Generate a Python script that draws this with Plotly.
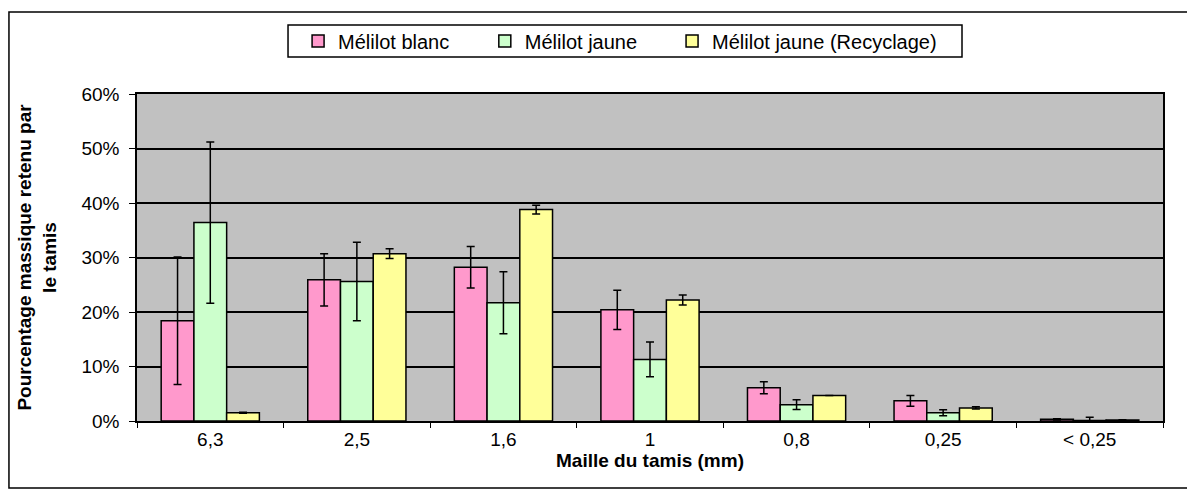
import plotly.graph_objects as go

categories = ["6,3", "2,5", "1,6", "1", "0,8", "0,25", "< 0,25"]
blanc = [18.4, 25.9, 28.2, 20.4, 6.1, 3.7, 0.3]
blanc_err = [11.7, 4.8, 3.8, 3.6, 1.1, 1.0, 0.1]
jaune = [36.4, 25.6, 21.7, 11.3, 3.0, 1.5, 0.1]
jaune_err = [14.8, 7.2, 5.7, 3.2, 0.9, 0.55, 0.6]
recyc = [1.5, 30.7, 38.8, 22.2, 4.7, 2.4, 0.2]
recyc_err = [0.1, 0.9, 0.8, 0.9, 0.0, 0.2, 0.05]

series = [
    ("Mélilot blanc", blanc, blanc_err, "#ff99cc", "legend", 0.1570),
    ("Mélilot jaune", jaune, jaune_err, "#ccffcc", "legend2", 0.3390),
    ("Mélilot jaune (Recyclage)", recyc, recyc_err, "#ffff99", "legend3", 0.5215),
]

font = "Liberation Sans, Arial, sans-serif"
fig = go.Figure()
legends = {}
for name, vals, errs, col, lg, lx in series:
    fig.add_trace(go.Bar(
        name=name, x=categories, y=[v / 100 for v in vals], legend=lg,
        marker=dict(color=col, line=dict(color="black", width=1.5)),
        error_y=dict(type="data", array=[e / 100 for e in errs], color="black",
                     thickness=1.5, width=4, visible=True),
    ))
    legends[lg] = dict(orientation="h", x=lx, xanchor="left", y=1.162, yanchor="middle",
                       bgcolor="rgba(0,0,0,0)", borderwidth=0,
                       font=dict(size=20, family=font, color="black"))

fig.update_layout(
    width=1195, height=490,
    margin=dict(l=129, r=40, t=86, b=77),
    paper_bgcolor="white", plot_bgcolor="#c1c1c1",
    barmode="group", bargap=0.33, bargroupgap=0,
    font=dict(family=font, size=19, color="black"),
    showlegend=True,
    xaxis=dict(
        title=dict(text="<b>Maille du tamis (mm)</b>", standoff=2, font=dict(size=19)),
        showline=True, linecolor="black", linewidth=1.5, mirror=True,
        ticks="outside", tickson="boundaries", ticklen=5, tickcolor="black",
        showgrid=False, tickfont=dict(size=19),
    ),
    yaxis=dict(
        title=dict(text="<b>Pourcentage massique retenu par<br>le tamis</b>", standoff=20,
                   font=dict(size=19)),
        range=[0, 0.6], dtick=0.1, tickformat=".0%",
        showline=True, linecolor="black", linewidth=1.5, mirror=True,
        ticks="outside", ticklen=6, tickcolor="black", tickfont=dict(size=19),
        ticklabelstandoff=6,
        showgrid=True, gridcolor="black", gridwidth=1.5, zeroline=False,
    ),
    shapes=[
        dict(type="rect", xref="paper", yref="paper",
             x0=-0.1248, x1=1.04, y0=-0.205, y1=1.2508,
             line=dict(color="black", width=1.5), fillcolor="rgba(0,0,0,0)",
             layer="below"),
        dict(type="rect", xref="paper", yref="paper",
             x0=0.1472, x1=0.8041, y0=1.1131, y1=1.211,
             line=dict(color="black", width=1.5), fillcolor="white",
             layer="below"),
    ],
    **legends,
)

fig.write_html("out.html")
